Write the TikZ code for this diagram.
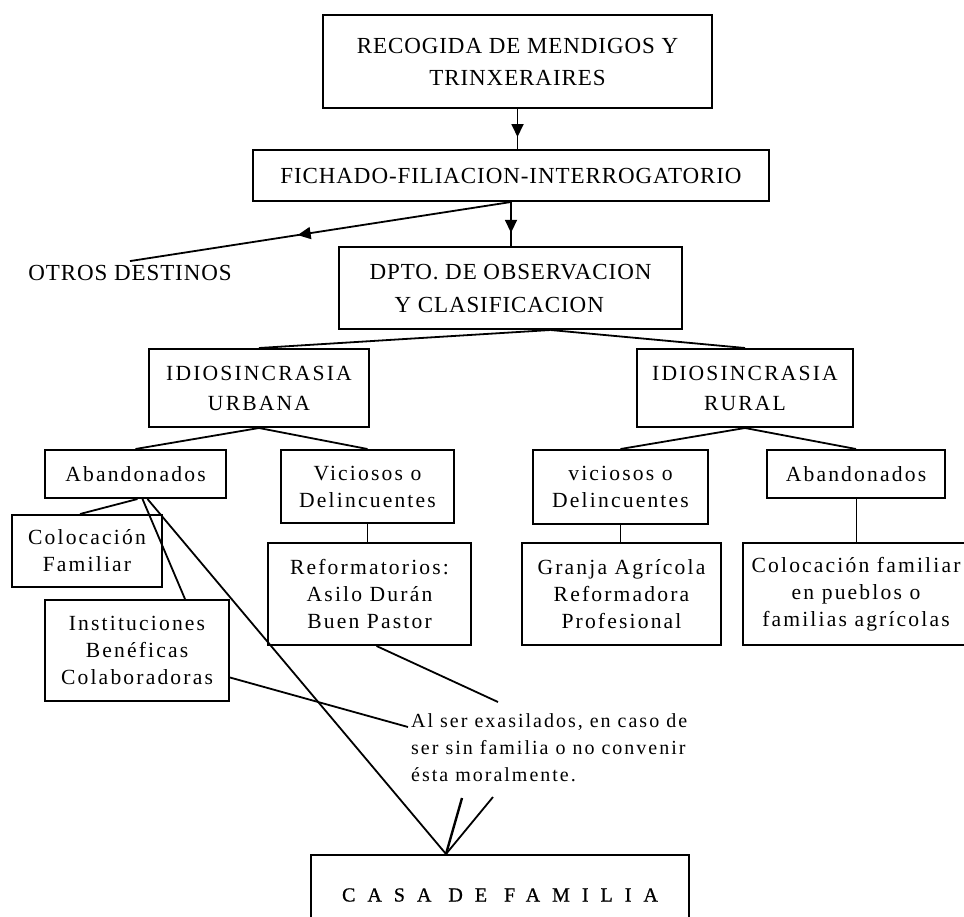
\documentclass[tikz,border=0pt]{standalone}
\usepackage{fontspec}
\setmainfont{Liberation Serif}
\newfontfamily\capsfont[LetterSpace=4]{Liberation Serif}
\newfontfamily\boxfont[LetterSpace=10]{Liberation Serif}
\newfontfamily\casafont[LetterSpace=60,FakeBold=0.8]{Liberation Serif}
\usetikzlibrary{arrows.meta,decorations.markings}

\begin{document}
\begin{tikzpicture}[x=1pt,y=-1pt,
  every node/.style={inner sep=0pt,align=center},
  caja/.style 2 args={draw,line width=2pt,minimum width=#1,minimum height=#2},
  conn/.style={line width=1.8pt},
  thinline/.style={line width=1pt},
  midarrow/.style={postaction={decorate},decoration={markings,
    mark=at position #1 with {\arrow{Triangle[length=13pt,width=12pt]}}}},
  mayus/.style={font=\capsfont\fontsize{23}{32}\selectfont},
  texto/.style={font=\boxfont\fontsize{21.6}{27}\selectfont}]
  \useasboundingbox (0,0) rectangle (964,916);

  % upper chain
  \node[caja={389pt}{93pt},mayus] (recogida) at (517.5,61.5) {RECOGIDA DE MENDIGOS Y\\TRINXERAIRES};
  \node[caja={516pt}{51pt},mayus] (fichado) at (511,175.5) {FICHADO-FILIACION-INTERROGATORIO};
  \node[caja={343pt}{82pt},mayus,font=\capsfont\fontsize{23}{33}\selectfont,align=left] (dpto) at (510.5,288) {DPTO. DE OBSERVACION\\\hspace*{25pt}Y CLASIFICACION};
  \node[mayus,inner sep=4pt] (otros) at (130,273) {OTROS DESTINOS};

  % idiosincrasia
  \node[caja={220pt}{78pt},texto,font=\boxfont\fontsize{21.6}{30}\selectfont] (urbana) at (259,388) {IDIOSINCRASIA\\URBANA};
  \node[caja={216pt}{78pt},texto,font=\boxfont\fontsize{21.6}{30}\selectfont] (rural) at (745,388) {IDIOSINCRASIA\\RURAL};

  \node[caja={181pt}{48pt},texto] (abandU) at (135.5,474) {Abandonados};
  \node[caja={173pt}{73pt},texto] (vicU) at (367.5,486.5) {Viciosos o\\Delincuentes};
  \node[caja={175pt}{74pt},texto] (vicR) at (620.5,487) {viciosos o\\Delincuentes};
  \node[caja={178pt}{48pt},texto] (abandR) at (856,474) {Abandonados};

  % destinos
  \node[caja={150pt}{72pt},texto] (colocU) at (87,551) {Colocación\\Familiar};
  \node[caja={184pt}{101pt},texto] (inst) at (137,650.5) {Instituciones\\Benéficas\\Colaboradoras};
  \node[caja={203pt}{102pt},texto] (refor) at (369.5,594) {Reformatorios:\\Asilo Durán\\Buen Pastor};
  \node[caja={199pt}{102pt},texto] (granja) at (621.5,594) {Granja Agrícola\\Reformadora\\Profesional};
  \node[caja={226pt}{102pt},texto] (colocR) at (856,594) {Colocación familiar\\en pueblos o\\familias agrícolas};

  \node[anchor=west,align=left,font=\boxfont\fontsize{20}{27}\selectfont] (nota) at (411,748) {Al ser exasilados, en caso de\\ser sin familia o no convenir\\ésta moralmente.};
  \node[caja={378pt}{80pt},font=\casafont\fontsize{20}{24}\selectfont] (casa) at (500,895) {CASA DE FAMILIA};

  \coordinate (notaA) at (498,702);
  \coordinate (notaB) at (408,727);
  \coordinate (notaC) at (462,798);
  \coordinate (notaD) at (493,797);

  % connectors
  \draw[conn,midarrow=0.7] (recogida.south) -- (recogida.south |- fichado.north);
  \draw[conn,midarrow=0.7] (fichado.south) -- (fichado.south |- dpto.north);
  \draw[conn,midarrow=0.56] (fichado.south) -- (otros.north);
  \draw[conn] ([xshift=40pt]dpto.south) -- (urbana.north);
  \draw[conn] ([xshift=40pt]dpto.south) -- (rural.north);
  \draw[conn] (urbana.south) -- (abandU.north);
  \draw[conn] (urbana.south) -- (vicU.north);
  \draw[conn] (rural.south) -- (vicR.north);
  \draw[conn] (rural.south) -- (abandR.north);
  \draw[conn] ([xshift=2pt]abandU.south) -- ([xshift=-7pt]colocU.north);
  \draw[conn] ([xshift=7pt]abandU.south) -- ([xshift=48pt]inst.north);
  \draw[conn] ([xshift=12pt]abandU.south) -- ([xshift=-54pt]casa.north);
  \draw[conn] (vicU.south) -- (vicU.south |- refor.north);
  \draw[conn] (vicR.south) -- (vicR.south |- granja.north);
  \draw[thinline] (abandR.south) -- (colocR.north);
  \draw[conn] ([xshift=7pt]refor.south) -- (notaA);
  \draw[conn] ([yshift=-27pt]inst.east) -- (notaB);
  \draw[conn,line width=2.4pt] (notaC) -- ([xshift=-54pt]casa.north);
  \draw[conn] (notaD) -- ([xshift=-54pt]casa.north);
\end{tikzpicture}
\end{document}
